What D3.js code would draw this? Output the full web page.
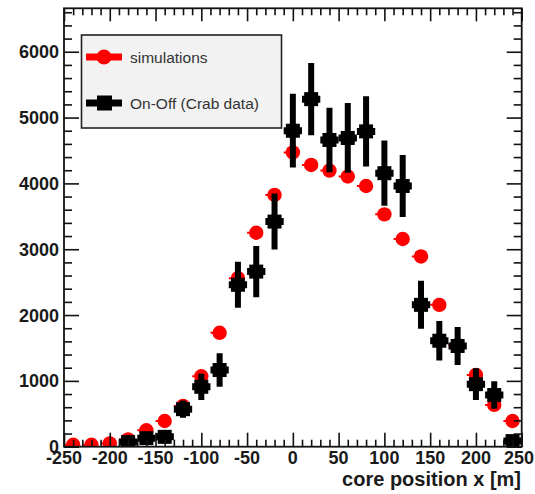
<!DOCTYPE html>
<html>
<head>
<meta charset="utf-8">
<script src="https://cdn.jsdelivr.net/npm/d3@7"></script>
<style>
  html, body { margin: 0; padding: 0; background: #fff; }
  svg { display: block; }
  text { font-family: "Liberation Sans", Arial, Helvetica, sans-serif; }
</style>
</head>
<body>
<svg id="chart" width="535" height="494"></svg>
<script>
// Bin centres of the core-position histogram [m]
const binCenters = [-240, -220, -200, -180, -160, -140, -120, -100, -80, -60, -40, -20,
                    0, 20, 40, 60, 80, 100, 120, 140, 160, 180, 200, 220, 240];
const binHalfWidth = 10;

// Simulated event counts per bin
const simValues = [30, 30, 50, 110, 250, 390, 620, 1070, 1730, 2560, 3250, 3825,
                   4470, 4280, 4195, 4105, 3960, 3530, 3155, 2890, 2155, 1545, 1090, 635, 390];

// On-Off (Crab data) counts and their statistical errors; null where no entry
const dataValues = [null, null, null, 70, 130, 150, 570, 910, 1165, 2460, 2660, 3420,
                    4800, 5280, 4660, 4690, 4790, 4155, 3960, 2155, 1610, 1530, 950, 785, 85];
const dataErrors = [null, null, null, 60, 80, 100, 130, 200, 255, 350, 390, 425,
                    560, 550, 490, 530, 535, 495, 470, 365, 300, 290, 240, 210, 60];

const xTickLabels = [-250, -200, -150, -100, -50, 0, 50, 100, 150, 200, 250];
const yTickLabels = [0, 1000, 2000, 3000, 4000, 5000, 6000];
const xTitle = "core position x [m]";
const legendLabels = ["simulations", "On-Off (Crab data)"];

const svg = d3.select("#chart");
const W = 535;
const frame = { left: 64, right: 521.7, top: 8.3, bottom: 446.7 };

const x = d3.scaleLinear().domain([-250, 250]).range([frame.left, frame.right]);
const y = d3.scaleLinear().domain([0, 6660]).range([frame.bottom, frame.top]);

const axisColor = "#111";
const labelColor = "#1a1a1a";

// ---- data marks (clipped to the frame) ----
svg.append("clipPath").attr("id", "plotClip")
  .append("rect")
  .attr("x", frame.left).attr("y", frame.top)
  .attr("width", frame.right - frame.left).attr("height", frame.bottom - frame.top);

const plot = svg.append("g").attr("clip-path", "url(#plotClip)");

const sim = binCenters.map((c, i) => ({ c, v: simValues[i] }));
const dat = binCenters.map((c, i) => ({ c, v: dataValues[i], e: dataErrors[i] }))
  .filter(d => d.v !== null);

// simulations: red dots with thin horizontal bin-width bars
const simG = plot.append("g");
simG.selectAll("line").data(sim).join("line")
  .attr("x1", d => x(d.c - binHalfWidth)).attr("x2", d => x(d.c + binHalfWidth) - 10)
  .attr("y1", d => y(d.v)).attr("y2", d => y(d.v))
  .attr("stroke", "#ff0000").attr("stroke-width", 2);
simG.selectAll("circle").data(sim).join("circle")
  .attr("cx", d => x(d.c)).attr("cy", d => y(d.v)).attr("r", 7.2)
  .attr("fill", "#ff0000");

// On-Off data: black squares with error bars
const datG = plot.append("g");
datG.selectAll("line.v").data(dat).join("line").attr("class", "v")
  .attr("x1", d => x(d.c)).attr("x2", d => x(d.c))
  .attr("y1", d => y(d.v - d.e)).attr("y2", d => y(d.v + d.e))
  .attr("stroke", "#000").attr("stroke-width", 6);
datG.selectAll("line.h").data(dat).join("line").attr("class", "h")
  .attr("x1", d => x(d.c - binHalfWidth)).attr("x2", d => x(d.c + binHalfWidth))
  .attr("y1", d => y(d.v)).attr("y2", d => y(d.v))
  .attr("stroke", "#000").attr("stroke-width", 7);
datG.selectAll("rect").data(dat).join("rect")
  .attr("x", d => x(d.c) - 7).attr("y", d => y(d.v) - 7)
  .attr("width", 14).attr("height", 14)
  .attr("fill", "#000");

// ---- axes: ticks on all four sides, pointing inward ----
const xMajor = d3.range(-250, 251, 50);
const xMinor = d3.range(-250, 251, 10).filter(v => v % 50 !== 0);
const yMajor = d3.range(0, 6001, 1000);
const yMinor = d3.range(0, 6660, 200).filter(v => v % 1000 !== 0);

const bottomAxis = d3.axisBottom(x).tickValues(xMajor).tickSizeInner(-14).tickSizeOuter(0).tickFormat("");
const bottomMinor = d3.axisBottom(x).tickValues(xMinor).tickSizeInner(-7).tickSizeOuter(0).tickFormat("");
const topAxis = d3.axisTop(x).tickValues(xMajor).tickSizeInner(-13).tickSizeOuter(0).tickFormat("");
const topMinor = d3.axisTop(x).tickValues(xMinor).tickSizeInner(-7).tickSizeOuter(0).tickFormat("");
const leftAxis = d3.axisLeft(y).tickValues(yMajor).tickSizeInner(-15).tickSizeOuter(0).tickFormat("");
const leftMinor = d3.axisLeft(y).tickValues(yMinor).tickSizeInner(-8).tickSizeOuter(0).tickFormat("");
const rightAxis = d3.axisRight(y).tickValues(yMajor).tickSizeInner(-15).tickSizeOuter(0).tickFormat("");
const rightMinor = d3.axisRight(y).tickValues(yMinor).tickSizeInner(-8).tickSizeOuter(0).tickFormat("");

function addAxis(axis, tx, ty) {
  const g = svg.append("g").attr("transform", `translate(${tx},${ty})`).call(axis);
  g.select(".domain").remove();
  g.selectAll(".tick line").attr("stroke", axisColor).attr("stroke-width", 1.6);
  return g;
}
addAxis(bottomAxis, 0, frame.bottom);
addAxis(bottomMinor, 0, frame.bottom);
addAxis(topAxis, 0, frame.top);
addAxis(topMinor, 0, frame.top);
addAxis(leftAxis, frame.left, 0);
addAxis(leftMinor, frame.left, 0);
addAxis(rightAxis, frame.right, 0);
addAxis(rightMinor, frame.right, 0);

// frame
svg.append("rect")
  .attr("x", frame.left).attr("y", frame.top)
  .attr("width", frame.right - frame.left).attr("height", frame.bottom - frame.top)
  .attr("fill", "none").attr("stroke", axisColor).attr("stroke-width", 1.8);

// tick labels; the last x label is pulled in so it stays on the canvas
const xLabels = svg.append("g").selectAll("text").data(xTickLabels).join("text")
  .attr("y", 464)
  .attr("font-size", 18).attr("font-weight", "bold").attr("fill", labelColor)
  .text(d => d)
  .attr("text-anchor", "middle")
  .attr("x", d => x(d));
xLabels.each(function(d) {
  const w = this.getComputedTextLength();
  if (x(d) + w / 2 > W - 1) {
    d3.select(this).attr("text-anchor", "end").attr("x", W - 1);
  }
});

svg.append("g").selectAll("text").data(yTickLabels).join("text")
  .attr("x", 59).attr("y", d => y(d)).attr("dy", "0.36em")
  .attr("text-anchor", "end")
  .attr("font-size", 18).attr("font-weight", "bold").attr("fill", labelColor)
  .text(d => d);

// axis title
svg.append("text")
  .attr("x", 521).attr("y", 486)
  .attr("text-anchor", "end")
  .attr("font-size", 20).attr("font-weight", "bold").attr("fill", labelColor)
  .text(xTitle);

// ---- legend ----
const legend = svg.append("g");
legend.append("rect")
  .attr("x", 81.5).attr("y", 35).attr("width", 200).attr("height", 93)
  .attr("fill", "#f2f2f2").attr("stroke", "#222").attr("stroke-width", 1.6);

const legRows = [
  { label: legendLabels[0], cy: 57, kind: "sim" },
  { label: legendLabels[1], cy: 103, kind: "data" }
];
legRows.forEach(r => {
  const col = r.kind === "sim" ? "#ff0000" : "#000";
  legend.append("line")
    .attr("x1", 86).attr("x2", 122).attr("y1", r.cy).attr("y2", r.cy)
    .attr("stroke", col).attr("stroke-width", 7);
  if (r.kind === "sim") {
    legend.append("circle").attr("cx", 104).attr("cy", r.cy).attr("r", 7.5).attr("fill", col);
  } else {
    legend.append("rect").attr("x", 97).attr("y", r.cy - 7.5).attr("width", 15).attr("height", 15).attr("fill", col);
  }
  legend.append("text")
    .attr("x", 130).attr("y", r.cy + 5.5)
    .attr("font-size", 15.5).attr("fill", "#333")
    .text(r.label);
});
</script>
</body>
</html>
